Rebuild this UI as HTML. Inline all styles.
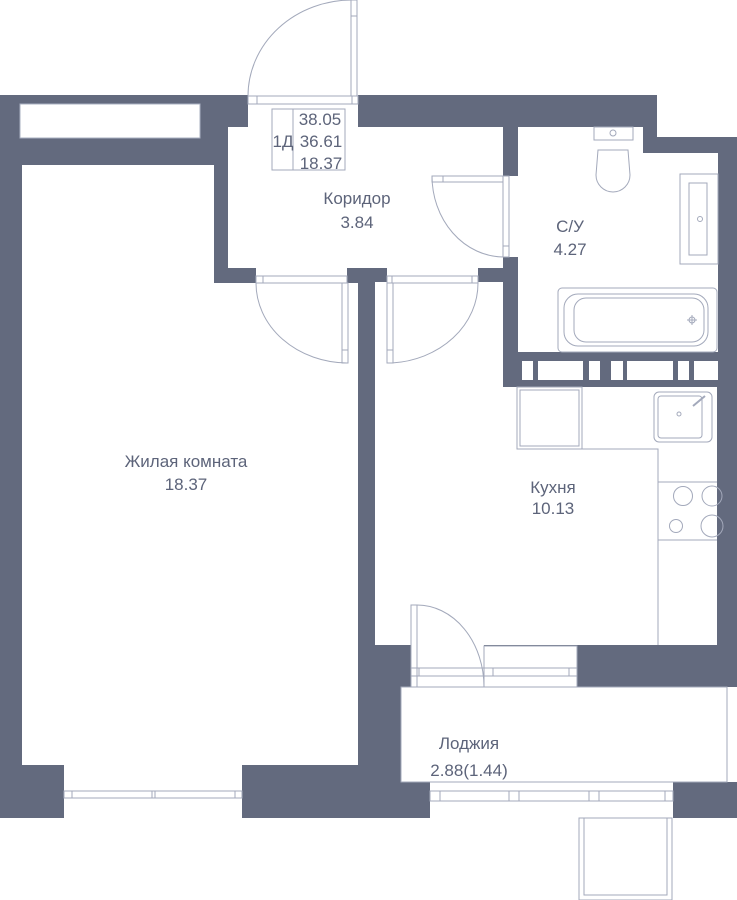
<!DOCTYPE html>
<html><head><meta charset="utf-8"><style>
html,body{margin:0;padding:0;background:#fff}
svg{display:block}
text{font-family:"Liberation Sans",sans-serif;fill:#5d647a;font-size:17px}
</style></head><body>
<svg width="737" height="900" viewBox="0 0 737 900" xmlns="http://www.w3.org/2000/svg">
<rect width="737" height="900" fill="#fff"/>
<rect x="0" y="95" width="737" height="723" fill="#636a7e"/>
<rect x="657" y="95" width="80" height="42" fill="#fff"/>
<rect x="727" y="687" width="10" height="95" fill="#fff"/>
<rect x="20" y="104" width="180" height="34" fill="#fff" stroke="#aab0c2" stroke-width="1"/>
<g fill="#fff">
<rect x="22" y="165" width="192" height="120"/>
<rect x="22" y="283" width="336" height="482"/>
<rect x="256" y="267" width="91" height="18"/>
<rect x="228" y="127" width="275" height="141"/>
<rect x="248" y="95" width="110" height="34"/>
<rect x="500" y="176" width="20" height="81"/>
<rect x="375" y="282" width="128" height="110"/>
<rect x="387" y="267" width="91" height="18"/>
<rect x="375" y="387" width="342" height="258"/>
<rect x="411" y="640" width="73" height="47"/>
<rect x="484" y="646" width="93" height="41"/>
<rect x="518" y="127" width="125" height="225"/>
<rect x="518" y="153" width="200" height="199"/>
<rect x="522" y="361" width="11" height="19"/><rect x="538" y="361" width="45" height="19"/>
<rect x="589" y="361" width="11" height="19"/><rect x="611" y="361" width="12" height="19"/>
<rect x="627" y="361" width="46" height="19"/><rect x="678" y="361" width="11" height="19"/>
<rect x="694" y="361" width="24" height="19"/>
<rect x="401" y="687" width="326" height="95"/>
<rect x="64" y="765" width="178" height="53"/>
<rect x="430" y="782" width="243" height="36"/>
</g>
<g fill="none" stroke="#a3a9bb" stroke-width="1">
<rect x="64" y="791" width="178" height="7"/><line x1="72" y1="791" x2="72" y2="798"/><line x1="152" y1="791" x2="152" y2="798"/><line x1="155" y1="791" x2="155" y2="798"/><line x1="235" y1="791" x2="235" y2="798"/>
<rect x="430" y="791" width="243" height="10"/><line x1="440" y1="791" x2="440" y2="801"/><line x1="509" y1="791" x2="509" y2="801"/><line x1="519" y1="791" x2="519" y2="801"/><line x1="589" y1="791" x2="589" y2="801"/><line x1="599" y1="791" x2="599" y2="801"/><line x1="665" y1="791" x2="665" y2="801"/>
<rect x="579" y="818" width="93" height="82"/><rect x="584" y="818" width="83" height="77"/>
<rect x="401" y="687" width="326" height="95"/>
<rect x="248" y="96" width="110" height="8"/><line x1="257" y1="96" x2="257" y2="104"/><line x1="352" y1="96" x2="352" y2="104"/>
<rect x="351" y="0" width="6" height="96"/><line x1="351" y1="16" x2="357" y2="16"/>
<path d="M352 0 A104 96 0 0 0 248 96"/>
<rect x="272" y="109" width="73" height="61"/><line x1="293" y1="109" x2="293" y2="170"/>
<rect x="256" y="276" width="91" height="7"/><line x1="263" y1="276" x2="263" y2="283"/>
<rect x="342" y="283" width="6" height="80"/><line x1="342" y1="350" x2="348" y2="350"/>
<path d="M256 283 A92 80 0 0 0 347 363"/>
<rect x="387" y="276" width="91" height="7"/><line x1="392" y1="276" x2="392" y2="283"/><line x1="472" y1="276" x2="472" y2="283"/>
<rect x="387" y="283" width="6" height="80"/><line x1="387" y1="350" x2="393" y2="350"/>
<path d="M478 283 A92 80 0 0 1 392 363"/>
<rect x="503" y="176" width="6" height="81"/><line x1="503" y1="246" x2="509" y2="246"/>
<rect x="432" y="176" width="71" height="6"/><line x1="443" y1="176" x2="443" y2="182"/>
<path d="M432 176 A72 81 0 0 0 503 257"/>
<rect x="594" y="127" width="39" height="13"/><circle cx="613" cy="133" r="3"/>
<path d="M598 150 L628 150 L630 175 A17 17 0 0 1 596 175 Z"/>
<rect x="680" y="174" width="38" height="90"/><rect x="689" y="183" width="18" height="72"/>
<circle cx="700" cy="219" r="2.5"/>
<rect x="558" y="288" width="159" height="64" rx="4"/>
<rect x="564" y="294" width="144" height="52" rx="14"/>
<rect x="574" y="298" width="130" height="44" rx="12"/>
<circle cx="692" cy="320" r="3"/><line x1="687" y1="320" x2="697" y2="320"/><line x1="692" y1="315" x2="692" y2="325"/>
<rect x="517" y="387" width="65" height="62"/><rect x="520" y="390" width="59" height="56"/>
<polyline points="582,449 658,449 658,645"/>
<line x1="658" y1="482" x2="717" y2="482"/><line x1="658" y1="540" x2="717" y2="540"/>
<rect x="654" y="392" width="58" height="50" rx="5"/><rect x="658" y="396" width="44" height="42" rx="3"/>
<circle cx="679" cy="414" r="2"/><line x1="693" y1="406" x2="705" y2="396" stroke-width="2"/>
<circle cx="683" cy="496" r="9.5"/><circle cx="712" cy="496" r="10"/>
<circle cx="676" cy="526" r="6.5"/><circle cx="712" cy="526" r="11"/>
<rect x="411" y="605" width="6" height="82"/>
<path d="M417 605 A67 82 0 0 1 484 687"/>
<rect x="411" y="668" width="166" height="8"/><line x1="419" y1="668" x2="419" y2="676"/><line x1="493" y1="668" x2="493" y2="676"/><line x1="569" y1="668" x2="569" y2="676"/>
<rect x="484" y="646" width="93" height="41"/>
</g>
<text x="320" y="125" text-anchor="middle">38.05</text>
<text x="283" y="147" text-anchor="middle">1Д</text>
<text x="321" y="147" text-anchor="middle">36.61</text>
<text x="321" y="169" text-anchor="middle">18.37</text>
<text x="357" y="204" text-anchor="middle">Коридор</text>
<text x="357" y="228" text-anchor="middle">3.84</text>
<text x="570" y="232" text-anchor="middle">С/У</text>
<text x="570" y="255" text-anchor="middle">4.27</text>
<text x="186" y="467" text-anchor="middle">Жилая комната</text>
<text x="186" y="490" text-anchor="middle">18.37</text>
<text x="553" y="493" text-anchor="middle">Кухня</text>
<text x="553" y="514" text-anchor="middle">10.13</text>
<text x="469" y="749" text-anchor="middle">Лоджия</text>
<text x="469" y="776" text-anchor="middle">2.88(1.44)</text>
</svg>
</body></html>
